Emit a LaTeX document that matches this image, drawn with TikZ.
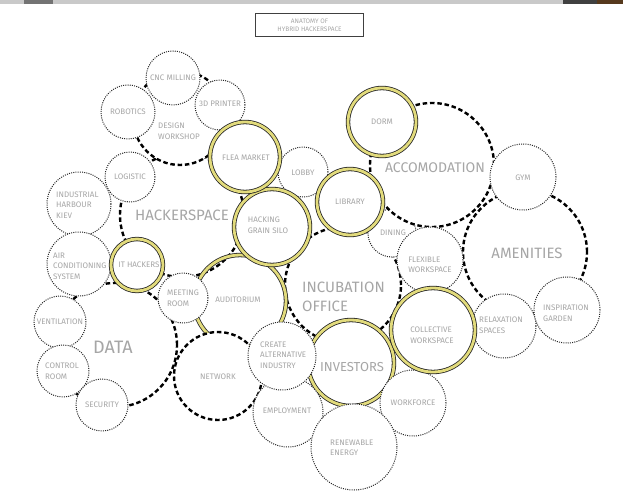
\documentclass[tikz,border=0pt]{standalone}
\usepackage{fontspec}
\setsansfont{Fira Sans}
\usepackage{xcolor}
\definecolor{hhsyellow}{HTML}{E2DB7C}
\definecolor{hhstext}{HTML}{A6A6A6}
\definecolor{hhsbar}{HTML}{C9C9C9}
\usepackage{tikz}
\tikzset{
  hhsbig/.style={circle,draw=black,fill=white,line width=2.4pt,dash pattern=on 4.5pt off 2.8pt,inner sep=0pt},
  hhsdot/.style={circle,draw=black!85,fill=white,line width=1pt,dash pattern=on 1pt off 1.2pt,inner sep=0pt},
  hhsring/.style={circle,draw=black!85,fill=white,line width=0.8pt,double=hhsyellow,double distance=2.8pt,inner sep=0pt},
  hhslbl/.style={font=\sffamily\fontsize{8}{10.5}\selectfont,text=hhstext,align=left,inner sep=0pt},
  hhsbiglbl/.style={font=\sffamily\fontsize{15}{19}\selectfont,text=hhstext,align=left,inner sep=0pt},
}

\begin{document}
\begin{tikzpicture}[x=1pt,y=-1pt]
\useasboundingbox (0,0) rectangle (623,492);
% screen edge
\fill[hhsbar] (0,0) rectangle (623,4.5);
\fill[black!55] (24,0) rectangle (53,4.5);
\fill[black!75] (563,0) rectangle (597,4.5);
\fill[black!55!brown] (597,0) rectangle (623,4.5);
\node[draw=black!75,line width=1pt,minimum width=108pt,minimum height=23pt,inner sep=0pt,font=\sffamily\fontsize{6.5}{7.5}\selectfont,text=hhstext,align=center] (title) at (309.5,25.5) {ANATOMY OF\\HYBRID HACKERSPACE};
% big bubbles
\node[hhsbig,minimum size=124pt] (hackerspace) at (182,215) {};
\node[hhsbig,minimum size=124pt] (data) at (115,345) {};
\node[hhsbig,minimum size=116pt] (incubation) at (343,285) {};
\node[hhsbig,minimum size=124pt] (amenities) at (525,252) {};
\node[hhsring,fill=none,minimum size=92pt] (auditorium) at (240,301) {};
\node[hhsring,minimum size=86pt] (investors) at (351,363) {};
\node[hhsdot,minimum size=48pt] (dining) at (392,233) {};
\node[hhsbig,minimum size=124pt] (accomodation) at (432,165) {};
\node[hhsbig,minimum size=88pt] (network) at (218,376) {};
\node[hhsbig,minimum size=94pt] (workshop) at (180,118) {};
% small bubbles
\node[hhsdot,minimum size=54pt] (cnc) at (173,78) {};
\node[hhsdot,minimum size=54pt] (robotics) at (128,112) {};
\node[hhsdot,minimum size=50pt] (printer) at (220,105) {};
\node[hhsdot,minimum size=50pt] (logistic) at (130,177) {};
\node[hhsdot,minimum size=64pt] (harbour) at (79,204) {};
\node[hhsdot,minimum size=64pt] (aircon) at (79,264) {};
\node[hhsdot,minimum size=50pt] (meeting) at (183,298) {};
\node[hhsdot,minimum size=52pt] (ventilation) at (60,322) {};
\node[hhsdot,minimum size=52pt] (control) at (63,371) {};
\node[hhsdot,minimum size=52pt] (security) at (102,405) {};
\node[hhsdot,minimum size=50pt] (lobby) at (303,172) {};
\node[hhsdot,minimum size=66pt] (flexible) at (430,260) {};
\node[hhsdot,minimum size=64pt] (relaxation) at (504,326) {};
\node[hhsdot,minimum size=66pt] (inspiration) at (567,310) {};
\node[hhsdot,minimum size=66pt] (gym) at (523,177) {};
\node[hhsdot,minimum size=66pt] (workforce) at (413,403) {};
\node[hhsdot,minimum size=70pt] (employment) at (288,412) {};
\node[hhsdot,minimum size=68pt] (create) at (282,356) {};
\node[hhsdot,minimum size=86pt] (renewable) at (354,447) {};
% ringed bubbles
\node[hhsring,minimum size=76pt] (silo) at (272,227) {};
\node[hhsring,minimum size=70pt] (flea) at (245,157) {};
\node[hhsring,minimum size=66pt] (library) at (350,202) {};
\node[hhsring,minimum size=68pt] (dorm) at (382,122) {};
\node[hhsring,minimum size=52pt] (hackers) at (137,265) {};
\node[hhsring,minimum size=84pt] (collective) at (433,330) {};
% labels
\node[hhsbiglbl] (lhackerspace) at (182,215) {HACKERSPACE};
\node[hhsbiglbl,font=\sffamily\fontsize{18}{20}\selectfont] (ldata) at (113,347) {DATA};
\node[hhsbiglbl,anchor=west] (lincubation) at (302,297) {INCUBATION\\OFFICE};
\node[hhsbiglbl] (lamenities) at (527,253) {AMENITIES};
\node[hhsbiglbl,font=\sffamily\fontsize{14}{16}\selectfont] (laccomodation) at (435,168) {ACCOMODATION};
\node[hhsbiglbl,font=\sffamily\fontsize{13}{15}\selectfont] (linvestors) at (352,367) {INVESTORS};
\node[hhslbl] (lauditorium) at (238,300) {AUDITORIUM};
\node[hhslbl] (lnetwork) at (218,377) {NETWORK};
\node[hhslbl,anchor=west] (lworkshop) at (158,131) {DESIGN\\WORKSHOP};
\node[hhslbl] (lcnc) at (173,78) {CNC MILLING};
\node[hhslbl] (lrobotics) at (128,112) {ROBOTICS};
\node[hhslbl] (lprinter) at (220,104) {3D PRINTER};
\node[hhslbl] (llogistic) at (130,177) {LOGISTIC};
\node[hhslbl,anchor=west] (lharbour) at (56,205) {INDUSTRIAL\\HARBOUR\\KIEV};
\node[hhslbl,anchor=west] (laircon) at (53,266) {AIR\\CONDITIONING\\SYSTEM};
\node[hhslbl] (lmeeting) at (183,298) {MEETING\\ROOM};
\node[hhslbl] (lventilation) at (60,322) {VENTILATION};
\node[hhslbl,anchor=west] (lcontrol) at (45,371) {CONTROL\\ROOM};
\node[hhslbl] (lsecurity) at (102,405) {SECURITY};
\node[hhslbl] (llobby) at (303,173) {LOBBY};
\node[hhslbl] (ldining) at (393,233) {DINING};
\node[hhslbl] (lflexible) at (430,265) {FLEXIBLE\\WORKSPACE};
\node[hhslbl,anchor=west] (lrelaxation) at (479,325) {RELAXATION\\SPACES};
\node[hhslbl,anchor=west] (linspiration) at (543,313) {INSPIRATION\\GARDEN};
\node[hhslbl] (lgym) at (523,178) {GYM};
\node[hhslbl] (lworkforce) at (413,403) {WORKFORCE};
\node[hhslbl] (lemployment) at (287,411) {EMPLOYMENT};
\node[hhslbl,anchor=west] (lcreate) at (260,355) {CREATE\\ALTERNATIVE\\INDUSTRY};
\node[hhslbl,anchor=west] (lrenewable) at (330,448) {RENEWABLE\\ENERGY};
\node[hhslbl] (lsilo) at (268,225) {HACKING\\GRAIN SILO};
\node[hhslbl] (lflea) at (246,158) {FLEA MARKET};
\node[hhslbl] (llibrary) at (350,202) {LIBRARY};
\node[hhslbl] (ldorm) at (382,122) {DORM};
\node[hhslbl] (lhackers) at (139,265) {IT HACKERS};
\node[hhslbl] (lcollective) at (432,335) {COLLECTIVE\\WORKSPACE};
\end{tikzpicture}
\end{document}
